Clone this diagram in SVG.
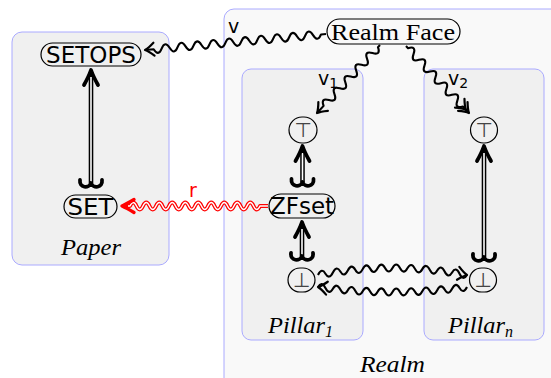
<svg xmlns="http://www.w3.org/2000/svg" xmlns:xlink="http://www.w3.org/1999/xlink" width="551" height="378" viewBox="0 0 551 378">
  <style>
    .frame { stroke: #aaaaff; stroke-width: 1; }
    .node { fill: none; stroke: #000; stroke-width: 1.2; }
    .sans { font-family: "DejaVu Sans", sans-serif; font-size: 23px; fill: #000; }
    .roman { font-family: "Liberation Serif", serif; font-size: 24px; fill: #000; }
    .ital { font-family: "Liberation Serif", serif; font-style: italic; font-size: 23px; fill: #000; }
    .sym { font-family: "DejaVu Sans", sans-serif; font-size: 20px; fill: #444; text-anchor: middle; }
    .lbl { font-family: "DejaVu Sans", sans-serif; font-size: 19px; fill: #000; }
    .wave { fill: none; stroke: #000; stroke-width: 2.1; stroke-linejoin: round; }
    .tip { fill: none; stroke: #000; stroke-width: 2.2; stroke-linecap: round; stroke-linejoin: round; }
    .bold { fill: none; stroke: #000; stroke-width: 3.8; stroke-linecap: round; stroke-linejoin: round; }
    .shaft-o { stroke: #000; stroke-width: 4.6; }
    .shaft-i { stroke: #fff; stroke-width: 1.6; }
    .red-o { fill: none; stroke: #ff0000; stroke-width: 4; stroke-linejoin: round; }
    .red-i { fill: none; stroke: #fff; stroke-width: 1.4; stroke-linejoin: round; }
    .red-tip { fill: none; stroke: #ff0000; stroke-width: 3.4; stroke-linecap: round; stroke-linejoin: round; }
  </style>
  <defs>
    <!-- open tip pointing along +x, tip at origin -->
    <path id="tip" d="M-9,-6.5 Q-3.5,-1.5 0,0 Q-3.5,1.5 -9,6.5"/>
    <!-- heavy tip pointing up, tip at origin -->
    <path id="bigTip" d="M-7,15 Q-2,6 0,0 Q2,6 7,15"/>
    <!-- double hook tail, shaft meets it at origin -->
    <path id="hooks" d="M-11,-3 C-12,5 -2,6 0,0 C2,6 12,5 11,-3"/>
    <!-- heavy red tip pointing along +x -->
    <path id="redTip" d="M-12,-6.5 Q-4.5,-2 0,0 Q-4.5,2 -12,6.5"/>
  </defs>

  <!-- frames -->
  <rect id="paper" class="frame" x="12" y="32" width="157" height="233" rx="10" fill="#f0f0f0"/>
  <rect id="realm" class="frame" x="224" y="9" width="340" height="385" rx="10" fill="#f9f9f9"/>
  <rect id="pillar1" class="frame" x="242" y="69" width="121" height="271" rx="9" fill="#f0f0f0"/>
  <rect id="pillarn" class="frame" x="424" y="69" width="120" height="271" rx="9" fill="#f0f0f0"/>

  <text class="ital" x="61" y="255" textLength="60" lengthAdjust="spacingAndGlyphs">Paper</text>
  <text class="ital" x="268" y="333"><tspan textLength="57" lengthAdjust="spacingAndGlyphs">Pillar</tspan><tspan font-size="16" dy="4">1</tspan></text>
  <text class="ital" x="448" y="333"><tspan textLength="57" lengthAdjust="spacingAndGlyphs">Pillar</tspan><tspan font-size="16" dy="4">n</tspan></text>
  <text class="ital" x="360" y="372" textLength="65" lengthAdjust="spacingAndGlyphs">Realm</text>

  <!-- connectors -->
  <g id="connectors">
    <!-- v : Realm Face to SETOPS -->
    <g transform="translate(326,34) rotate(174.95)">
      <path class="wave" d="M0,0 h5 q4,-8 8,0 t8,0 t8,0 t8,0 t8,0 t8,0 t8,0 t8,0 t8,0 t8,0 t8,0 t8,0 t8,0 t8,0 t8,0 t8,0 t8,0 t8,0 t8,0 t8,0 t8,0 h8.7"/>
      <use xlink:href="#tip" class="tip" x="181.7" y="0"/>
    </g>
    <text class="lbl" x="228" y="33">v</text>

    <!-- v1 : Realm Face to top of pillar 1 -->
    <g transform="translate(380,45) rotate(132.8)">
      <path class="wave" d="M0,0 h3 q4,-8 8,0 t8,0 t8,0 t8,0 t8,0 t8,0 t8,0 t8,0 t8,0 t8,0 h9.7"/>
      <use xlink:href="#tip" class="tip" x="92.7" y="0"/>
    </g>
    <text class="lbl" x="318" y="85">v<tspan font-size="14" dy="3">1</tspan></text>

    <!-- v2 : Realm Face to top of pillar n (double tip) -->
    <g transform="translate(406,46) rotate(46.8)">
      <path class="wave" d="M0,0 h3 q4,-8 8,0 t8,0 t8,0 t8,0 t8,0 t8,0 t8,0 t8,0 t8,0 t8,0 h9"/>
      <use xlink:href="#tip" class="tip" x="92" y="0"/>
      <use xlink:href="#tip" class="tip" x="87.5" y="0"/>
    </g>
    <text class="lbl" x="448" y="85">v<tspan font-size="14" dy="3">2</tspan></text>

    <!-- r : ZFset to SET, red double line -->
    <g transform="translate(268,206) rotate(180)">
      <path class="red-o" d="M0,0 h8 q3.25,-7 6.5,0 t6.5,0 t6.5,0 t6.5,0 t6.5,0 t6.5,0 t6.5,0 t6.5,0 t6.5,0 t6.5,0 t6.5,0 t6.5,0 t6.5,0 t6.5,0 t6.5,0 t6.5,0 t6.5,0 t6.5,0 t6.5,0 t6.5,0 h5"/>
      <path class="red-i" d="M0,0 h8 q3.25,-7 6.5,0 t6.5,0 t6.5,0 t6.5,0 t6.5,0 t6.5,0 t6.5,0 t6.5,0 t6.5,0 t6.5,0 t6.5,0 t6.5,0 t6.5,0 t6.5,0 t6.5,0 t6.5,0 t6.5,0 t6.5,0 t6.5,0 t6.5,0 h2"/>
      <use xlink:href="#redTip" class="red-tip" x="146" y="0"/>
    </g>
    <text class="lbl" x="189" y="197" style="fill:#ff0000">r</text>

    <!-- bottom of pillar 1 to bottom of pillar n, bent upward -->
    <g transform="translate(0,-1.5)">
      <path class="wave" d="M318,276.5 Q321.73,268.82 325.45,275.17 Q329.18,281.56 332.9,273.98 Q336.63,266.44 340.35,272.93 Q344.08,279.46 347.8,272.02 Q351.53,264.62 355.25,271.25 Q358.98,277.92 362.7,270.62 Q366.43,263.36 370.15,270.13 Q373.88,276.94 377.6,269.78 Q381.33,262.66 385.05,269.57 Q388.78,276.52 392.5,269.5 Q396.23,262.52 399.95,269.57 Q403.68,276.66 407.4,269.78 Q411.13,262.94 414.85,270.13 Q418.58,277.36 422.3,270.62 Q426.03,263.92 429.75,271.25 Q433.48,278.62 437.2,272.02 Q440.93,265.46 444.65,272.93 Q448.38,280.44 452.1,273.98 Q455.83,267.56 459.55,275.17 Q463.28,282.82 467,276.5"/>
      <use xlink:href="#tip" class="tip" transform="translate(467,276.5) rotate(10.6)"/>
    </g>

    <!-- bottom of pillar n back to bottom of pillar 1, bent downward -->
    <g transform="translate(0,1.5)">
      <path class="wave" d="M467,285.5 Q463.28,292.99 459.55,286.45 Q455.83,279.89 452.1,287.3 Q448.38,294.69 444.65,288.05 Q440.93,281.39 437.2,288.7 Q433.48,295.99 429.75,289.25 Q426.03,282.49 422.3,289.7 Q418.58,296.89 414.85,290.05 Q411.13,283.19 407.4,290.3 Q403.68,297.39 399.95,290.45 Q396.23,283.49 392.5,290.5 Q388.78,297.49 385.05,290.45 Q381.33,283.39 377.6,290.3 Q373.88,297.19 370.15,290.05 Q366.43,282.89 362.7,289.7 Q358.98,296.49 355.25,289.25 Q351.53,281.99 347.8,288.7 Q344.08,295.39 340.35,288.05 Q336.63,280.69 332.9,287.3 Q329.18,293.89 325.45,286.45 Q321.73,278.99 318,285.5"/>
      <use xlink:href="#tip" class="tip" transform="translate(318,285.5) rotate(187.6)"/>
    </g>

    <!-- SET up to SETOPS -->
    <line class="shaft-o" x1="91" y1="183" x2="91" y2="72"/>
    <line class="shaft-i" x1="91" y1="182" x2="91" y2="77"/>
    <use xlink:href="#bigTip" class="bold" x="91" y="70"/>
    <use xlink:href="#hooks" class="bold" x="91" y="183"/>

    <!-- ZFset up to top of pillar 1 -->
    <line class="shaft-o" x1="302.5" y1="182" x2="302.5" y2="148"/>
    <line class="shaft-i" x1="302.5" y1="181" x2="302.5" y2="153"/>
    <use xlink:href="#bigTip" class="bold" x="302.5" y="146"/>
    <use xlink:href="#hooks" class="bold" x="302.5" y="182"/>

    <!-- bottom of pillar 1 up to ZFset -->
    <line class="shaft-o" x1="302" y1="256" x2="302" y2="224"/>
    <line class="shaft-i" x1="302" y1="255" x2="302" y2="229"/>
    <use xlink:href="#bigTip" class="bold" x="302" y="222"/>
    <use xlink:href="#hooks" class="bold" x="302" y="256"/>

    <!-- bottom of pillar n up to top of pillar n -->
    <line class="shaft-o" x1="484" y1="257" x2="484" y2="148"/>
    <line class="shaft-i" x1="484" y1="256" x2="484" y2="153"/>
    <use xlink:href="#bigTip" class="bold" x="484" y="146"/>
    <use xlink:href="#hooks" class="bold" x="484" y="257"/>
  </g>

  <!-- nodes -->
  <g id="setops">
    <rect class="node" x="41" y="43" width="100" height="23" rx="11.5"/>
    <text class="sans" x="91" y="63" text-anchor="middle">SETOPS</text>
  </g>
  <g id="set">
    <rect class="node" x="64" y="195" width="53" height="23" rx="11.5"/>
    <text class="sans" x="67.5" y="214.5" textLength="46" lengthAdjust="spacingAndGlyphs">SET</text>
  </g>
  <g id="realm-face">
    <rect class="node" x="327" y="19" width="133" height="25" rx="12.5"/>
    <text class="roman" x="331" y="40" textLength="124" lengthAdjust="spacingAndGlyphs">Realm Face</text>
  </g>
  <g id="zfset">
    <rect class="node" x="269" y="194" width="66" height="24" rx="12"/>
    <text class="sans" x="302" y="214" text-anchor="middle">ZFset</text>
  </g>
  <g id="top1">
    <rect class="node" x="289" y="117" width="28" height="26" rx="13"/>
    <text class="sym" x="303" y="137">⊤</text>
  </g>
  <g id="bot1">
    <rect class="node" x="288" y="268" width="27" height="24" rx="12"/>
    <text class="sym" x="301.5" y="287">⊥</text>
  </g>
  <g id="topn">
    <rect class="node" x="470.5" y="117" width="27" height="26" rx="13"/>
    <text class="sym" x="484" y="137">⊤</text>
  </g>
  <g id="botn">
    <rect class="node" x="469.5" y="268" width="27" height="24" rx="12"/>
    <text class="sym" x="483" y="287">⊥</text>
  </g>
</svg>
